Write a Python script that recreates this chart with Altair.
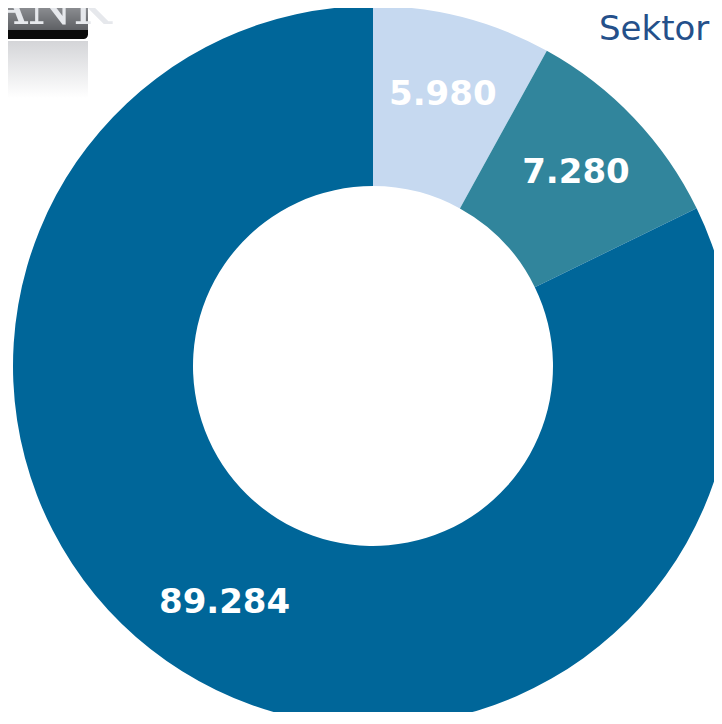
import altair as alt
import pandas as pd

# Data
categories = ["A", "B", "C"]
label_texts = ["5.980", "7.280", "89.284"]
drawn_values = [5980, 7280, 61300]   # slice sizes as drawn (angles ~29°, ~35°, ~296°)
order_idx = [0, 1, 2]
colors = ["#c6d9f0", "#31859c", "#006699"]
title_text = "Sektor"

df = pd.DataFrame({
    "cat": categories,
    "label": label_texts,
    "value": drawn_values,
    "ord": order_idx,
})

CX, CY = 365, 358

base = alt.Chart(df).encode(
    theta=alt.Theta("value:Q", stack=True),
    order=alt.Order("ord:Q"),
    x=alt.value(CX),
    y=alt.value(CY),
)

arcs = base.mark_arc(outerRadius=360, innerRadius=180, stroke=None).encode(
    color=alt.Color("cat:N", scale=alt.Scale(domain=categories, range=colors), legend=None)
)

labels = base.mark_text(
    radius=280, font="DejaVu Sans", fontWeight="bold", fontSize=34,
    color="white", align="center", baseline="middle"
).encode(text="label:N")

# logo (top-left, cropped)
logo_df = pd.DataFrame({"k": [0]})
logo_body = alt.Chart(logo_df).mark_rect(
    color=alt.Gradient(gradient="linear", x1=0, x2=0, y1=0, y2=1,
                       stops=[alt.GradientStop(color="#8a8c90", offset=0),
                              alt.GradientStop(color="#5c5e62", offset=1)])
).encode(x=alt.value(0), x2=alt.value(80), y=alt.value(0), y2=alt.value(23))
logo_band = alt.Chart(logo_df).mark_rect(color="#0a0a0a", cornerRadiusBottomRight=10).encode(
    x=alt.value(0), x2=alt.value(80), y=alt.value(22), y2=alt.value(31))
logo_text = alt.Chart(logo_df).mark_text(
    text="ANK", font="DejaVu Serif", fontSize=52, color="#e6e8ec",
    align="left", baseline="alphabetic"
).encode(x=alt.value(-18), y=alt.value(16))
logo_refl = alt.Chart(logo_df).mark_rect(
    color=alt.Gradient(gradient="linear", x1=0, x2=0, y1=0, y2=1,
                       stops=[alt.GradientStop(color="#d4d5d8", offset=0),
                              alt.GradientStop(color="#ffffff", offset=1)])
).encode(x=alt.value(0), x2=alt.value(80), y=alt.value(33), y2=alt.value(90))

title = alt.Chart(logo_df).mark_text(
    text=title_text, font="DejaVu Sans", fontSize=34, color="#24508a",
    align="left", baseline="alphabetic"
).encode(x=alt.value(591), y=alt.value(32))

chart = alt.layer(logo_refl, logo_body, logo_band, logo_text, arcs, labels, title).properties(
    width=706, height=704, padding=0, autosize=alt.AutoSizeParams(type="none")
).configure_view(stroke=None)

chart.save("out.html", embed_options={"renderer": "svg", "actions": False})
